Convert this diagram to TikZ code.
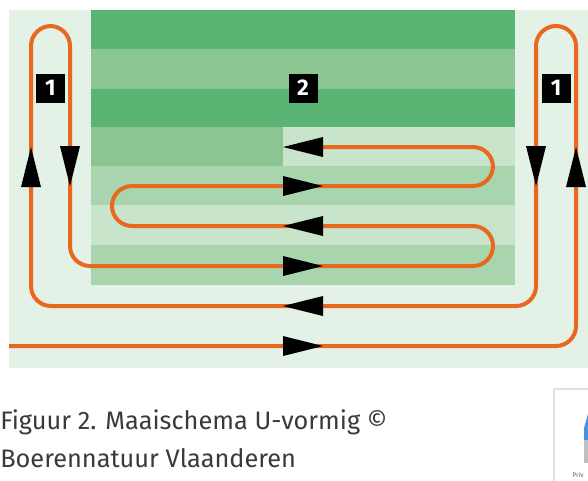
\documentclass[tikz,border=0pt]{standalone}
\usepackage{fontspec}
\setmainfont{Fira Sans}
\usetikzlibrary{arrows.meta, positioning}

\definecolor{bgpale}{HTML}{E3F1E6}
\definecolor{grdark}{HTML}{5AB574}
\definecolor{grmid}{HTML}{8BC692}
\definecolor{grlight}{HTML}{A8D5AE}
\definecolor{grpale}{HTML}{C8E4CA}
\definecolor{mowline}{HTML}{E8681E}
\definecolor{captxt}{HTML}{3A3A3A}
\definecolor{badgeblue}{HTML}{4A90E2}

\begin{document}
\begin{tikzpicture}[
    x=0.75pt, y=-0.75pt,
    track/.style={draw=mowline, line width=3pt, rounded corners=15pt},
    tag/.style={fill=black, text=white, font=\bfseries\fontsize{17}{17}\selectfont, minimum size=21.75pt, inner sep=0pt},
    caption/.style={anchor=base west, inner sep=0pt, text=captxt, font=\fontsize{19}{22}\selectfont},
    head/.pic={\fill[black] (-20,-10) -- (20,0) -- (-20,10) -- cycle;},
]
    \useasboundingbox (0,0) rectangle (588,480);
    \fill[white] (0,0) rectangle (588,480);
    \fill[bgpale] (9,10) rectangle (588,368);

    % field stripes
    \fill[grdark] (91,10) rectangle (515,49);
    \fill[grmid] (91,49) rectangle (515,89);
    \fill[grdark] (91,89) rectangle (515,127);
    \fill[grmid] (91,127) rectangle (283,166);
    \fill[grpale] (283,127) rectangle (515,166);
    \fill[grlight] (91,166) rectangle (515,205);
    \fill[grpale] (91,205) rectangle (515,245);
    \fill[grlight] (91,245) rectangle (515,285);

    % mowing track
    \draw[track] (9,346) -- (576,346) -- (576,26) -- (536,26) -- (536,306)
        -- (31,306) -- (31,26) -- (70,26) -- (70,266) -- (493,266) -- (493,226)
        -- (112,226) -- (112,186) -- (493,186) -- (493,147) -- (323,147);

    \pic at (303,346) {head};
    \pic[rotate=180] at (303,306) {head};
    \pic at (303,266) {head};
    \pic[rotate=180] at (303,226) {head};
    \pic at (303,186) {head};
    \pic[rotate=180] at (303,147) {head};
    \pic[rotate=90] at (31,167) {head};
    \pic[rotate=-90] at (70,166) {head};
    \pic[rotate=-90] at (536,166) {head};
    \pic[rotate=90] at (576,167) {head};

    \node[tag] (t1l) at (50.5,88) {1};
    \node[tag] (t2) at (303,88) {2};
    \node[tag] (t1r) at (556,88) {1};

    \node[caption] (cap1) at (0,429) {Figuur 2. Maaischema U-vormig ©};
    \node[caption] (cap2) at (0,467) {Boerennatuur Vlaanderen};

    % badge in the corner
    \begin{scope}
        \clip (0,0) rectangle (588,480);
        \fill[black!12] (553,388) rectangle (590,482);
        \fill[white] (555,390) rectangle (590,482);
        \fill[badgeblue] (588,414) -- (584,428) -- (584,440) -- (588,440) -- cycle;
        \fill[black!25] (584,440) rectangle (588,463);
        \node[anchor=west, inner sep=0pt, text=black!60, font=\fontsize{5}{5}\selectfont] (bdg) at (572,475) {Priv};
    \end{scope}
\end{tikzpicture}
\end{document}
